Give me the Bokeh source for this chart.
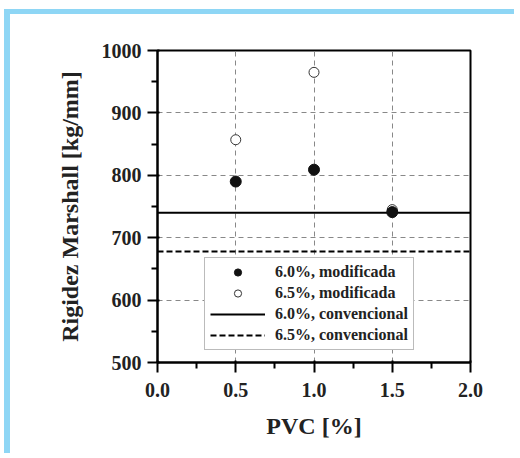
from bokeh.plotting import figure
from bokeh.models import Legend, LegendItem, FixedTicker, PrintfTickFormatter
from bokeh.embed import file_html
from bokeh.resources import INLINE

# ---- data ----
pvc = [0.5, 1.0, 1.5]
mod_60 = [790, 809, 741]
mod_65 = [857, 965, 745]
conv_60 = 740
conv_65 = 678
x_ticks = [0.0, 0.5, 1.0, 1.5, 2.0]
x_minor = [0.25, 0.75, 1.25, 1.75]
y_ticks = [500, 600, 700, 800, 900, 1000]
y_minor = [550, 650, 750, 850, 950]
labels = ["6.0%, modificada", "6.5%, modificada", "6.0%, convencional", "6.5%, convencional"]

FONT = "Liberation Serif"

p = figure(width=510, height=444, x_range=(0, 2), y_range=(500, 1000),
           output_backend="svg", toolbar_location=None,
           min_border_left=147, min_border_right=50, min_border_top=36, min_border_bottom=96)
p.styles = {"margin-left": "4px", "margin-top": "9px",
            "border-left": "6px solid #8ed6f5", "border-top": "5px solid #8ed6f5"}

p.outline_line_color = "black"
p.outline_line_width = 2
p.background_fill_color = "white"
p.border_fill_color = "white"

# axes
p.xaxis.ticker = FixedTicker(ticks=x_ticks, minor_ticks=x_minor)
p.yaxis.ticker = FixedTicker(ticks=y_ticks, minor_ticks=y_minor)
p.xaxis.formatter = PrintfTickFormatter(format="%.1f")
p.yaxis.formatter = PrintfTickFormatter(format="%d")
for ax in (p.xaxis, p.yaxis):
    ax.axis_line_width = 2
    ax.axis_line_color = "black"
    ax.major_tick_line_width = 2
    ax.minor_tick_line_width = 2
    ax.major_tick_line_color = "black"
    ax.minor_tick_line_color = "black"
    ax.major_tick_out = 10
    ax.major_tick_in = 2
    ax.minor_tick_out = 6
    ax.minor_tick_in = 0
    ax.major_label_text_font = FONT
    ax.major_label_text_font_style = "bold"
    ax.major_label_text_font_size = "20px"
    ax.major_label_text_color = "#222"
    ax.axis_label_text_font = FONT
    ax.axis_label_text_font_style = "bold"
    ax.axis_label_text_font_size = "24px"
    ax.axis_label_text_color = "#222"
p.xaxis.axis_label = "PVC [%]"
p.yaxis.axis_label = "Rigidez Marshall [kg/mm]"
p.xaxis.major_label_standoff = 10
p.yaxis.major_label_standoff = 6
p.xaxis.axis_label_standoff = 13
p.yaxis.axis_label_standoff = 16

# grid
for g in (p.xgrid, p.ygrid):
    g.grid_line_color = "#888888"
    g.grid_line_dash = "5 4"
    g.grid_line_width = 1

# horizontal reference lines
xr = [p.x_range.start, p.x_range.end]
r_c60 = p.line(xr, [conv_60, conv_60], line_color="black", line_width=2)
r_c65 = p.line(xr, [conv_65, conv_65], line_color="black", line_width=2, line_dash="6 3")

r_m65 = p.scatter(pvc, mod_65, marker="circle", size=10, fill_color="white",
                  line_color="#333333", line_width=1)
r_m60 = p.scatter(pvc, mod_60, marker="circle", size=11, fill_color="#111111",
                  line_color="#111111", line_width=1)

legend = Legend(items=[
    LegendItem(label=labels[0], renderers=[r_m60]),
    LegendItem(label=labels[1], renderers=[r_m65]),
    LegendItem(label=labels[2], renderers=[r_c60]),
    LegendItem(label=labels[3], renderers=[r_c65]),
], location=(47, 12))
legend.label_text_font = FONT
legend.label_text_font_style = "bold"
legend.label_text_font_size = "16px"
legend.label_text_color = "#222"
legend.glyph_width = 55
legend.glyph_height = 18
legend.label_height = 18
legend.label_standoff = 10
legend.spacing = 3
legend.padding = 5
legend.margin = 0
legend.border_line_color = "#777777"
legend.border_line_width = 1
legend.background_fill_color = "white"
legend.background_fill_alpha = 1
p.add_layout(legend)

open("out.html", "w").write(file_html(p, INLINE))
